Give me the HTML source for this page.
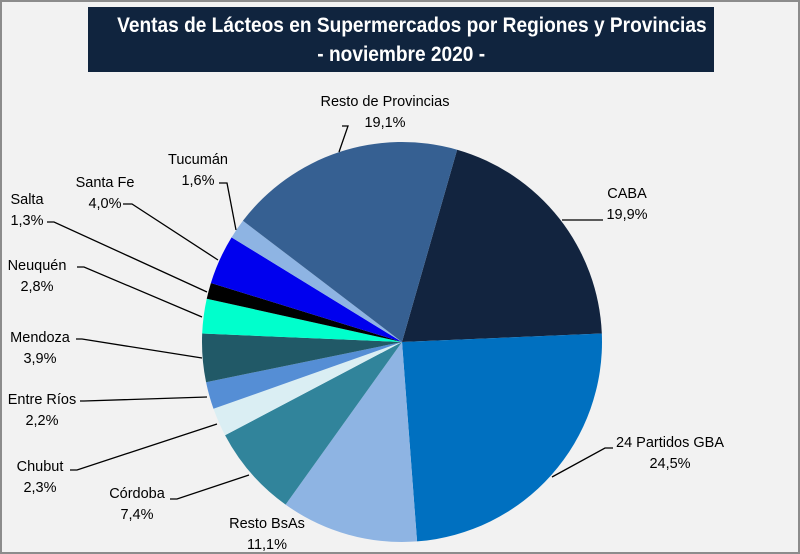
<!DOCTYPE html>
<html><head><meta charset="utf-8"><style>
body{margin:0;background:#fff}
#wrap{position:relative;width:800px;height:554px;background:#f2f2f2;box-sizing:border-box;border:2px solid #8c8c8c;overflow:hidden;font-family:"Liberation Sans",sans-serif}
#title{position:absolute;left:86px;top:5px;width:626px;height:65px;background:#10243e;color:#fff;font-weight:bold;font-size:21px;text-align:center;line-height:29px;padding-top:4px;box-sizing:border-box;white-space:nowrap}
#title span{display:inline-block;transform:scaleX(0.91);transform-origin:center}
svg{position:absolute;left:0;top:0}
</style></head><body>
<div id="wrap">
<div id="title"><span>Ventas de Lácteos en Supermercados por Regiones y Provincias</span><br><span>- noviembre 2020 -</span></div>
<svg id="chart" width="800" height="554"></svg>
</div>
<script>
const categories=["CABA","24 Partidos GBA","Resto BsAs","Córdoba","Chubut","Entre Ríos","Mendoza","Neuquén","Salta","Santa Fe","Tucumán","Resto de Provincias"];
const values=[19.9,24.5,11.1,7.4,2.3,2.2,3.9,2.8,1.3,4.0,1.6,19.1];
const valueLabels=["19,9%","24,5%","11,1%","7,4%","2,3%","2,2%","3,9%","2,8%","1,3%","4,0%","1,6%","19,1%"];
const colors=["#12243f","#0070c0","#8eb4e3","#31849b","#daeef3","#558ed5","#215967","#00ffcc","#000000","#0000ee","#8eb4e3","#366092"];
const labelPos=[[625,191],[668,440],[265,521],[135,491],[38,464],[40,397],[38,335],[35,263],[25,197],[103,180],[196,157],[383,99]];
const leaders=[
"560,218 601,218","550,475 603,446 611,446","", "247,473 175,497 168,497","215,422 75,468 68,468","205,395 82,399 78,399","200,356 80,337 74,337","200,315 82,265 75,265","205,290 52,220 45,220","216,258 130,202 121,202","234,228 225,181 217,181","337,150 346,124 340,124"];
const svg=document.getElementById('chart');
const NS='http://www.w3.org/2000/svg';
const cx=400,cy=340,r=200,start=16;
const total=values.reduce((a,b)=>a+b,0);
function pt(deg,rr){const a=(deg-90)*Math.PI/180;return [cx+rr*Math.cos(a),cy+rr*Math.sin(a)];}
let ang=start;
values.forEach((v,i)=>{
  const sweep=v/total*360;
  const p0=pt(ang,r),p1=pt(ang+sweep,r);
  const path=document.createElementNS(NS,'path');
  path.setAttribute('d',`M${cx},${cy} L${p0[0]},${p0[1]} A${r},${r} 0 ${sweep>180?1:0} 1 ${p1[0]},${p1[1]} Z`);
  path.setAttribute('fill',colors[i]);
  
  
  svg.appendChild(path);
  ang+=sweep;
});
categories.forEach((c,i)=>{
  if(leaders[i]){
    const pl=document.createElementNS(NS,'polyline');
    pl.setAttribute('points',leaders[i]);
    pl.setAttribute('fill','none');pl.setAttribute('stroke','#000');pl.setAttribute('stroke-width','1.3');
    
    
    svg.appendChild(pl);
  }
  const t=document.createElementNS(NS,'text');
  t.setAttribute('x',labelPos[i][0]);t.setAttribute('y',labelPos[i][1]+5);
  t.setAttribute('text-anchor','middle');t.setAttribute('font-size','14.5');
  t.setAttribute('font-family','"Liberation Sans",sans-serif');t.setAttribute('fill','#000');
  
  
  const s1=document.createElementNS(NS,'tspan');s1.setAttribute('x',labelPos[i][0]);s1.textContent=c;
  const s2=document.createElementNS(NS,'tspan');s2.setAttribute('x',labelPos[i][0]);s2.setAttribute('dy','21');s2.textContent=valueLabels[i];
  t.appendChild(s1);t.appendChild(s2);svg.appendChild(t);
});
</script>
</body></html>
